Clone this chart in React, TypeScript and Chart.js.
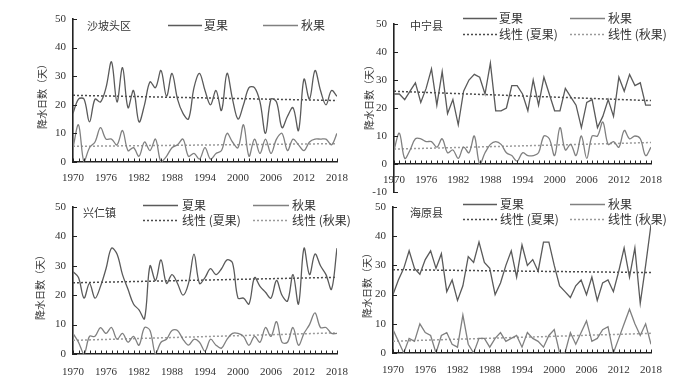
import React, { useEffect, useRef } from "react";
import { Chart, registerables } from "chart.js";

Chart.register(...registerables);

// ---------- data ----------
const YEARS: number[] = Array.from({ length: 49 }, (_, i) => 1970 + i);
const X_TICK_YEARS = [1970, 1976, 1982, 1988, 1994, 2000, 2006, 2012, 2018];
const Y_TICKS = [0, 10, 20, 30, 40, 50];
const Y_TICKS_NEG = [-10, 0, 10, 20, 30, 40, 50];

const LABEL_SUMMER = "夏果";
const LABEL_AUTUMN = "秋果";
const LABEL_TREND_SUMMER = "线性 (夏果)";
const LABEL_TREND_AUTUMN = "线性 (秋果)";
const Y_TITLE = "降水日数（天）";

// 沙坡头区
const SPT_SUMMER = [17, 22, 22, 14, 22, 21, 26, 35, 21, 33, 19, 25, 14, 20, 28, 26, 32, 23, 31, 22, 17, 15, 26, 31, 25, 20, 25, 18, 31, 22, 15, 20, 26, 26, 21, 10, 22, 21, 12, 16, 19, 11, 29, 22, 32, 25, 20, 25, 23];
const SPT_AUTUMN = [5, 13, 0, 5, 7, 12, 8, 8, 6, 11, 4, 5, 2, 7, 4, 8, 0, 2, 5, 6, 8, 2, 3, 1, 5, 1, 3, 4, 10, 7, 5, 13, 2, 8, 3, 8, 3, 8, 10, 4, 8, 6, 4, 7, 8, 8, 8, 6, 10];
// 中宁县
const ZN_SUMMER = [25, 25, 23, 26, 29, 22, 27, 34, 21, 33, 18, 23, 14, 26, 30, 32, 31, 25, 36, 19, 19, 20, 28, 28, 25, 19, 30, 21, 31, 25, 19, 19, 27, 24, 21, 13, 22, 23, 13, 17, 23, 17, 31, 26, 32, 28, 29, 21, 21];
const ZN_AUTUMN = [5, 11, 2, 5, 9, 9, 8, 8, 6, 9, 4, 5, 2, 6, 4, 10, 0, 4, 7, 8, 7, 4, 3, 1, 4, 3, 3, 4, 10, 9, 3, 13, 5, 7, 3, 10, 2, 10, 10, 15, 7, 8, 6, 12, 9, 10, 9, 3, 6];
// 兴仁镇
const XR_SUMMER = [28, 26, 19, 24, 19, 23, 29, 36, 34, 27, 22, 17, 15, 12, 30, 25, 32, 24, 27, 24, 20, 24, 34, 24, 26, 29, 27, 29, 32, 31, 19, 19, 17, 26, 23, 21, 19, 25, 20, 18, 27, 17, 36, 27, 34, 30, 27, 22, 36];
const XR_AUTUMN = [7, 4, 0, 6, 6, 9, 7, 9, 5, 7, 4, 6, 3, 9, 8, 0, 4, 5, 8, 8, 5, 3, 5, 4, 1, 5, 3, 2, 5, 7, 7, 6, 3, 6, 4, 9, 6, 11, 4, 4, 9, 3, 7, 10, 14, 9, 9, 7, 7];
// 海原县
const HY_SUMMER = [20, 25, 29, 35, 29, 27, 32, 35, 29, 34, 21, 25, 18, 23, 33, 31, 38, 31, 29, 20, 24, 30, 35, 26, 37, 30, 32, 28, 38, 38, 30, 23, 21, 19, 23, 25, 20, 26, 18, 24, 25, 21, 28, 36, 26, 36, 17, 30, 44];
const HY_AUTUMN = [8, 4, 0, 5, 4, 10, 7, 6, 0, 6, 7, 3, 2, 13, 3, 0, 5, 5, 2, 5, 7, 4, 5, 6, 2, 7, 5, 4, 2, 6, 8, 0, 0, 7, 3, 7, 11, 4, 5, 8, 9, 0, 5, 10, 15, 10, 6, 10, 3];

// ---------- styles ----------
const C_SUMMER = "#5a5a5a";
const C_AUTUMN = "#808080";
const C_TREND_SUMMER = "#4a4a4a";
const C_TREND_AUTUMN = "#9a9a9a";
const C_AXIS = "#222";
const C_TEXT = "#333";
const SERIF = "'Liberation Serif', 'Times New Roman', serif";
const CJK = "'Noto Sans CJK SC', sans-serif";

type Panel = {
  title: string;
  summer: number[];
  autumn: number[];
  tensionSummer: number;
  tensionAutumn: number;
  yMin: number;
  canvas: { left: number; top: number; w: number; h: number };
  area: { l: number; r: number; t: number; b: number };
  xPad: number;
  titlePos: { x: number; y: number };
  twoRows: boolean;
  rows: number[];
  col1: { a: number; b: number; text: number };
  col2: { a: number; b: number; text: number };
  yTitle: { x: number; y: number };
};

const PANELS: Panel[] = [
  {
    title: "沙坡头区", summer: SPT_SUMMER, autumn: SPT_AUTUMN, tensionSummer: 0.35, tensionAutumn: 0.35, yMin: 0,
    canvas: { left: 0, top: 0, w: 360, h: 196 }, area: { l: 73, r: 337, t: 19, b: 162 }, xPad: 10,
    titlePos: { x: 87, y: 26 }, twoRows: false, rows: [25],
    col1: { a: 168, b: 202, text: 204 }, col2: { a: 263, b: 298, text: 301 }, yTitle: { x: 42, y: 94 },
  },
  {
    title: "中宁县", summer: ZN_SUMMER, autumn: ZN_AUTUMN, tensionSummer: 0, tensionAutumn: 0.35, yMin: -10,
    canvas: { left: 345, top: 0, w: 338, h: 212 }, area: { l: 394, r: 651, t: 24, b: 192 }, xPad: 10,
    titlePos: { x: 410, y: 26 }, twoRows: true, rows: [18, 34],
    col1: { a: 463, b: 497, text: 499 }, col2: { a: 570, b: 605, text: 608 }, yTitle: { x: 369, y: 95 },
  },
  {
    title: "兴仁镇", summer: XR_SUMMER, autumn: XR_AUTUMN, tensionSummer: 0.35, tensionAutumn: 0.35, yMin: 0,
    canvas: { left: 0, top: 192, w: 360, h: 193 }, area: { l: 73, r: 337, t: 207, b: 354 }, xPad: 12,
    titlePos: { x: 83, y: 213 }, twoRows: true, rows: [205, 220],
    col1: { a: 143, b: 178, text: 182 }, col2: { a: 253, b: 289, text: 292 }, yTitle: { x: 40, y: 285 },
  },
  {
    title: "海原县", summer: HY_SUMMER, autumn: HY_AUTUMN, tensionSummer: 0, tensionAutumn: 0, yMin: 0,
    canvas: { left: 345, top: 192, w: 338, h: 193 }, area: { l: 393, r: 651, t: 207, b: 353 }, xPad: 11,
    titlePos: { x: 410, y: 213 }, twoRows: true, rows: [204, 219],
    col1: { a: 463, b: 497, text: 500 }, col2: { a: 570, b: 605, text: 608 }, yTitle: { x: 367, y: 283 },
  },
];

function trendLine(vals: number[]) {
  const n = vals.length;
  let sx = 0, sy = 0, sxx = 0, sxy = 0;
  vals.forEach((v, i) => {
    const x = YEARS[i];
    sx += x; sy += v; sxx += x * x; sxy += x * v;
  });
  const b = (n * sxy - sx * sy) / (n * sxx - sx * sx);
  const a = (sy - b * sx) / n;
  const x0 = YEARS[0], x1 = YEARS[YEARS.length - 1];
  return [{ x: x0, y: a + b * x0 }, { x: x1, y: a + b * x1 }];
}

function makeDecor(p: Panel) {
  return {
    id: "decor",
    afterDraw(chart: any) {
      const ctx: CanvasRenderingContext2D = chart.ctx;
      const xs = chart.scales.x, ys = chart.scales.y;
      const ox = p.canvas.left, oy = p.canvas.top;
      const y0 = ys.getPixelForValue(0);
      const x0 = chart.chartArea.left;
      ctx.save();
      ctx.strokeStyle = C_AXIS;
      ctx.lineWidth = 1;
      ctx.beginPath();
      for (const yr of YEARS) {
        const px = Math.round(xs.getPixelForValue(yr)) + 0.5;
        ctx.moveTo(px, y0 - 3.5);
        ctx.lineTo(px, y0);
      }
      for (const t of ys.ticks) {
        const py = Math.round(ys.getPixelForValue(t.value)) + 0.5;
        ctx.moveTo(x0, py);
        ctx.lineTo(x0 + 4, py);
      }
      ctx.stroke();

      // panel title
      ctx.fillStyle = C_TEXT;
      ctx.font = `11px ${CJK}`;
      ctx.textAlign = "left";
      ctx.textBaseline = "middle";
      ctx.fillText(p.title, p.titlePos.x - ox, p.titlePos.y - oy);

      // legend
      const drawEntry = (col: { a: number; b: number; text: number }, y: number, color: string, dotted: boolean, text: string) => {
        ctx.save();
        ctx.strokeStyle = color;
        ctx.lineWidth = dotted ? 1.5 : 1.3;
        ctx.setLineDash(dotted ? [2, 2] : []);
        ctx.beginPath();
        ctx.moveTo(col.a - ox, y - oy + 0.5);
        ctx.lineTo(col.b - ox, y - oy + 0.5);
        ctx.stroke();
        ctx.restore();
        ctx.font = `12px ${CJK}`;
        ctx.fillStyle = C_TEXT;
        ctx.textAlign = "left";
        ctx.textBaseline = "middle";
        ctx.fillText(text, col.text - ox, y - oy);
      };
      drawEntry(p.col1, p.rows[0], C_SUMMER, false, LABEL_SUMMER);
      drawEntry(p.col2, p.rows[0], C_AUTUMN, false, LABEL_AUTUMN);
      if (p.twoRows) {
        drawEntry(p.col1, p.rows[1], C_TREND_SUMMER, true, LABEL_TREND_SUMMER);
        drawEntry(p.col2, p.rows[1], C_TREND_AUTUMN, true, LABEL_TREND_AUTUMN);
      }

      // y title
      ctx.save();
      ctx.translate(p.yTitle.x - ox, p.yTitle.y - oy);
      ctx.rotate(-Math.PI / 2);
      ctx.font = `10px ${CJK}`;
      ctx.fillStyle = C_TEXT;
      ctx.textAlign = "center";
      ctx.textBaseline = "middle";
      ctx.fillText(Y_TITLE, 0, 0);
      ctx.restore();

      ctx.restore();
    },
  };
}

function PanelChart({ p }: { p: Panel }) {
  const ref = useRef<HTMLCanvasElement>(null);
  useEffect(() => {
    const cv = ref.current!;
    const aL = p.area.l - p.canvas.left;
    const aR = p.area.r - p.canvas.left;
    const aT = p.area.t - p.canvas.top;
    const aB = p.area.b - p.canvas.top;
    const neg = p.yMin < 0;
    const pts = (vals: number[]) => vals.map((v, i) => ({ x: YEARS[i], y: v }));
    const chart = new Chart(cv, {
      type: "line",
      data: {
        datasets: [
          { label: LABEL_SUMMER, data: pts(p.summer), borderColor: C_SUMMER, borderWidth: 1.3, pointRadius: 0, tension: p.tensionSummer, fill: false },
          { label: LABEL_AUTUMN, data: pts(p.autumn), borderColor: C_AUTUMN, borderWidth: 1.3, pointRadius: 0, tension: p.tensionAutumn, fill: false },
          { label: LABEL_TREND_SUMMER, data: trendLine(p.summer), borderColor: C_TREND_SUMMER, borderWidth: 1.5, borderDash: [2, 2], pointRadius: 0, fill: false },
          { label: LABEL_TREND_AUTUMN, data: trendLine(p.autumn), borderColor: C_TREND_AUTUMN, borderWidth: 1.5, borderDash: [2, 2], pointRadius: 0, fill: false },
        ],
      },
      options: {
        responsive: false,
        animation: false,
        devicePixelRatio: 1,
        layout: {
          padding: { left: 0, top: aT, right: p.canvas.w - aR, bottom: neg ? p.canvas.h - aB : 0 },
        },
        plugins: { legend: { display: false }, tooltip: { enabled: false }, title: { display: false } },
        scales: {
          x: {
            type: "linear",
            min: 1970,
            max: 2018,
            position: neg ? { y: 0 } : "bottom",
            afterBuildTicks: (s: any) => { s.ticks = X_TICK_YEARS.map((v) => ({ value: v })); },
            afterFit: (s: any) => { if (!neg) s.height = p.canvas.h - aB; },
            ticks: {
              callback: (v: any) => String(v),
              font: { family: SERIF, size: 11 },
              color: C_TEXT,
              padding: p.xPad,
              maxRotation: 0,
              minRotation: 0,
              autoSkip: false,
            },
            grid: { display: false, drawTicks: false },
            border: { display: true, color: C_AXIS, width: 1.6 },
          } as any,
          y: {
            type: "linear",
            min: p.yMin,
            max: 50,
            afterBuildTicks: (s: any) => { s.ticks = (neg ? Y_TICKS_NEG : Y_TICKS).map((v) => ({ value: v })); },
            afterFit: (s: any) => { s.width = aL; },
            ticks: {
              callback: (v: any) => String(v),
              font: { family: SERIF, size: 11 },
              color: C_TEXT,
              padding: 7,
            },
            grid: { display: false, drawTicks: false },
            border: { display: true, color: C_AXIS, width: 1.6 },
          },
        },
      },
      plugins: [makeDecor(p)],
    } as any);

    // nudge the layout padding until the plot area sits where the reference has it
    for (let k = 0; k < 4; k++) {
      const ca = chart.chartArea;
      const dT = aT - ca.top;
      const dB = ca.bottom - aB;
      const dR = ca.right - aR;
      if (Math.abs(dT) < 0.5 && Math.abs(dB) < 0.5 && Math.abs(dR) < 0.5) break;
      const pad: any = (chart.options as any).layout.padding;
      (chart.options as any).layout.padding = {
        left: 0,
        top: pad.top + dT,
        right: pad.right + dR,
        bottom: Math.max(0, pad.bottom + dB),
      };
      chart.update();
    }
    return () => chart.destroy();
  }, [p]);
  return (
    <canvas
      ref={ref}
      width={p.canvas.w}
      height={p.canvas.h}
      style={{ position: "absolute", left: p.canvas.left, top: p.canvas.top, width: p.canvas.w, height: p.canvas.h }}
    />
  );
}

export default function App() {
  return (
    <div style={{ position: "absolute", left: 0, top: 0, width: 683, height: 385, background: "#fff", overflow: "hidden" }}>
      {PANELS.map((p) => (
        <PanelChart key={p.title} p={p} />
      ))}
    </div>
  );
}
